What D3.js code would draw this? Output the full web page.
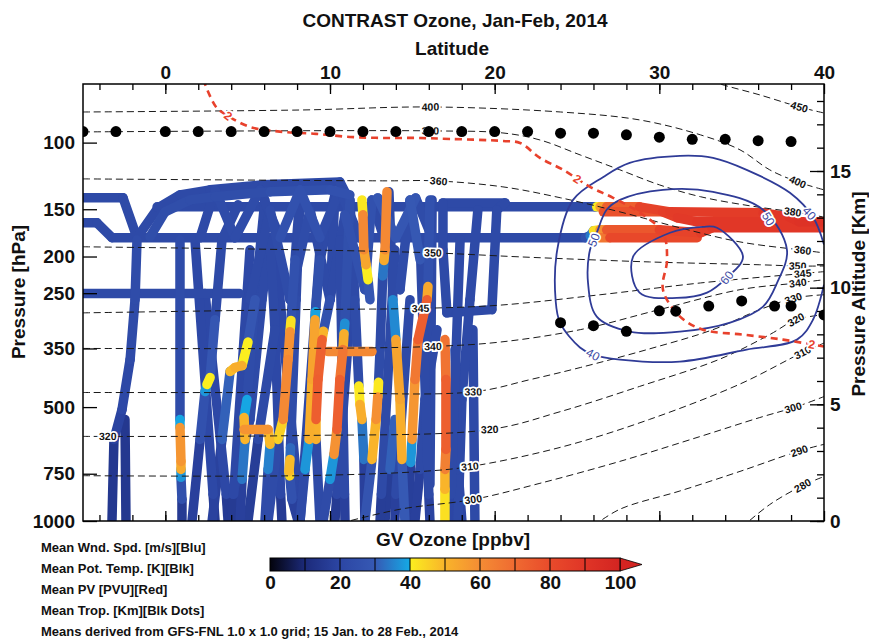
<!DOCTYPE html>
<html>
<head>
<meta charset="utf-8">
<script src="https://cdn.jsdelivr.net/npm/d3@7"></script>
<style>
  body { margin: 0; background: #fff; }
  svg text { font-family: "Liberation Sans", Arial, Helvetica, sans-serif; }
</style>
</head>
<body>
<div id="chart"></div>
<script>
// axis ticks
const latTicks = [0, 10, 20, 30, 40]
const pressureTicks = [100, 150, 200, 250, 350, 500, 750, 1000]
const altitudeTicks = [0, 5, 10, 15]
const ozoneTicks = [0, 20, 40, 60, 80, 100]

// ozone colour table (ppbv)
const ozoneStops = [0, 10, 20, 30, 39.9, 40, 50, 60, 70, 80, 90, 100]
const ozoneColors = ['#03030c', '#1c2a7a', '#2c46a4', '#3659b4', '#15a9e5', '#fbee1f',
                     '#f9b42a', '#f48c34', '#ef6a31', '#e94b2b', '#e03527', '#d32421']

// mean potential temperature contours [lat, hPa]
const thetaContours = [
  [450, [[32.5,67],[33.7,70],[36.1,74.8],[38.5,80.5],[40,83.5]]],
  [400, [[-5,83],[8.2,82],[16.1,80.5],[24,83],[28.8,87.1],[32.5,95.4],[34.9,104.5],[36.7,118],[38.4,127],[40,133.3]]],
  [380, [[-5,93.7],[16.1,93.1],[20.5,94.3],[22.75,98.4],[25.2,107.8],[27.6,118],[30,129.3],[32.5,139],[35.5,146.9],[38.1,152.4],[40,157.3]]],
  [360, [[-5,124.7],[13.2,126.2],[16.4,126.2],[20.5,130.9],[24,139.9],[27.6,152.4],[31.25,167.9],[34.9,183],[38.5,192],[40,195.6]]],
  [350, [[-5,188.5],[8.2,192],[16.25,195.6],[21.5,200.4],[29.4,206.7],[36.1,210.3],[38.4,211.9],[40,211.9]]],
  [345, [[-5,281.8],[8.2,276.3],[15.5,274.2],[20.3,268.9],[26.4,252.4],[32.5,234.9],[38.5,222.2],[40,219.3]]],
  [340, [[-5,349.9],[8.2,349.9],[16.25,345.7],[20.3,336.7],[25.2,312.1],[30,276.3],[34.9,244.7],[38.4,234.9],[40,230.3]]],
  [330, [[-5,457.5],[8.2,457.5],[18.7,455.6],[22.15,423],[25.2,393],[29.25,352.4],[33.26,312.1],[36.1,276.3],[38.24,257.3],[40,252.4]]],
  [320, [[-5,597.6],[8.2,594.5],[19.7,573],[24,513.8],[28.8,440.9],[33.7,373],[36.7,321.7],[38.3,293.8],[40,284.9]]],
  [310, [[-5,759],[8.2,759],[15.5,740],[18.5,718],[24,638.6],[29.4,539],[34.9,434.5],[38.7,358.5],[40,338.7]]],
  [300, [[10,1030],[14.25,931],[18.7,877],[22.75,795],[27.6,695.8],[32.5,597.6],[36.1,532.8],[38.4,497.7],[40,469]]],
  [290, [[26,1030],[27.6,931],[31.25,833],[34.9,739.4],[38.5,652.8],[40,627.2]]],
  [280, [[35,1040],[36.7,905],[38.7,806],[40,763]]]
]
const thetaLabels = [
  [450,38.5,80.5],[400,16.1,80.5],[400,38.4,127],[380,16.1,93.1],[380,38.1,152.4],
  [360,16.6,126.2],[360,38.7,192],[350,16.25,195.6],[350,38.4,210.3],[345,15.5,274.2],
  [345,38.7,220.7],[340,16.25,345.7],[340,38.4,232.7],[330,18.7,455.6],[330,38.1,255.7],
  [320,-3.5,594.5],[320,19.7,573],[320,38.3,293.8],[310,18.5,718],[310,38.7,358.5],
  [300,18.7,877],[300,38.1,497.7],[290,38.5,652.8],[280,38.7,806]
]

// mean wind speed contours [lat, hPa]
const wind40 = [[40,186],[39.33,157.3],[37.93,135.7],[35.3,118],[33.26,109.7],[31.25,108.4],[28.2,113.1],
  [26.6,123.2],[24.76,141.7],[23.8,192],[23.7,260.1],[23.97,299.1],[25.18,347.8],[25.97,363.3],
  [27.61,374.5],[31.25,379],[35.3,352.4],[38.36,331.6],[39.33,293.8],[40,237.4]]
const wind50 = [[27.61,141.7],[30.22,133.3],[33.26,134.9],[36.3,150.5],[37.75,192],[37.15,234.9],
  [36.3,271.3],[34.3,299.1],[31.25,315.9],[28.2,315.9],[26.2,288.4],[25.67,234.9],[25.79,192],
  [26.2,173.1],[26.8,150.5]]
const wind60 = [[28.4,200.4],[30.65,173.1],[32.65,166.9],[33.5,167.9],[35.08,200.4],[34.1,227.5],
  [32.9,249.2],[31.07,257.3],[28.8,249.2]]
const windLabels = [[40,25.97,363.3],[40,39.2,152.4],[50,36.72,158],[50,26.0,180.6],[60,34.1,227.5]]

// mean PV = 2 PVU contour [lat, hPa]
const pv2 = [[2.3,68],[3.08,80.5],[3.81,85],[5.14,90.9],[7.15,93.7],[9.15,94.8],[11.21,96.6],[13.22,97.2],
  [15.22,97.2],[17.29,97.8],[20.51,99],[21.54,100.2],[22.75,109.7],[24.15,118],[25.79,130.9],
  [27.19,139.9],[28.83,153.3],[30.22,173.1],[30.47,203.9],[30.22,244.7],[31.26,288.4],[32.65,312.1],
  [35.08,321.7],[37.51,331.6],[39.33,342],[40,346]]
const pvLabels = [[2,3.81,85],[2,25.06,123.9],[2,39.27,338.7]]

// mean tropopause height [km]
const tropHighLat = [-5,-3,0,2,4,6,8,10,12,14,16,18,20,22,24,26,28,30,32,34,36,38]
const tropHighKm = [16.69,16.69,16.69,16.69,16.69,16.69,16.69,16.69,16.69,16.69,16.69,16.69,16.69,16.69,
  16.62,16.62,16.55,16.45,16.36,16.36,16.3,16.26]
const tropLowLat = [24,26,28,30,31,33,35,37,38,40]
const tropLowKm = [8.5,8.37,8.13,9.01,8.99,9.21,9.43,9.21,9.21,8.83]

// GV flight tracks, vertices [lat, hPa, ozone ppbv]
const flightTracks = [
  [[-5,139.9,22],[-2.57,139.9,22],[-1.72,178.4,22],[-0.44,148.7,22],[0.89,137.4,22],[2.72,133.3,22],[5.93,129.3,22],[10.6,127,22],[10.91,134.9,24]],
  [[-0.93,177.4,24],[-0.02,152.4,24],[1.5,141.7,24],[3.02,139,24],[6.36,134.9,24],[10.0,133.3,26],[11.21,137.4,26]],
  [[-0.5,147.8,22],[26.1,147.8,22],[26.2,147.8,35],[26.4,147.8,45],[26.8,147.8,65],[28.8,147.8,82],[30.65,152.4,86],[36.3,153.3,88],[37.9,157.3,90],[38.5,161.9,92],[40,161.9,92]],
  [[26.6,152.4,72],[30.2,152.4,84],[31.1,158,88],[32.3,161.9,88],[38.5,161.9,90]],
  [[-5,162.9,22],[-4.15,162.9,22],[-3.24,178.4,22],[25.5,178.4,22],[25.8,176.3,30],[26.0,171,38],[26.4,170,48],[26.8,170,70],[30.0,170,82],[32.5,173.1,85],[33.2,167.9,88],[40,167.9,90]],
  [[26.2,178.4,55],[27.0,178.4,78],[32.3,178.4,85]],
  [[-1.72,180.6,23],[-1.84,260.1,23],[-2.14,374.5,22],[-2.63,507.4,20],[-3.12,608.7,18],[-3.24,1000,12]],
  [[-2.45,539.2,20],[-2.39,1000,10]],
  [[-5,250.6,22],[4.5,250.6,22]],
  [[0.89,180.6,22],[0.89,539.2,24],[0.89,566,55],[0.95,695.8,60],[0.95,730.5,45],[0.95,766.7,30],[1.01,876.4,20],[1.01,1000,12]],
  [[1.62,1000,14],[2.11,608.7,22],[2.41,454.8,30],[2.53,435.8,45],[2.72,417.7,35],[3.02,293.8,22],[3.44,180.6,22],[4.42,146,22]],
  [[2.84,1000,15],[3.44,608.7,22],[3.93,402.7,40],[4.23,393,58],[4.66,388.3,45],[5.02,336.7,35],[5.45,260.1,22],[6.05,180.6,22]],
  [[6.05,141.7,22],[5.45,260.1,22],[4.96,477.5,24],[4.78,532.6,55],[4.84,608.7,45],[4.66,776.2,22],[4.54,1000,14]],
  [[4.78,573,58],[6.24,573,58],[6.36,627.2,40],[6.24,730.5,30],[6.05,1000,15]],
  [[6.24,1000,15],[6.84,608.7,30],[7.15,539.2,60],[7.45,374.5,62],[7.57,315.9,55],[7.63,295,30],[7.88,203.9,22],[8.18,137.4,22]],
  [[8.18,137.4,22],[7.94,260.1,22],[7.6,640,24],[7.57,687.5,40],[7.51,739.4,58],[7.55,760,30],[7.69,876.4,22],[8.06,1000,14]],
  [[8.18,1000,14],[8.48,730.5,30],[8.73,608.7,45],[8.91,422.8,58],[9.09,293.8,50],[9.12,280,28],[9.39,203.9,22],[10.3,137.4,22]],
  [[10.3,137.4,22],[10.0,260.1,22],[9.6,315,30],[9.52,331.6,70],[9.27,422.8,76],[9.15,539.2,72],[9.15,608.7,30],[9.39,1000,14]],
  [[9.58,1000,15],[10.0,776.2,30],[10.24,666.8,45],[10.42,573,72],[10.6,422.8,75],[10.79,352.4,58],[10.85,320,45],[10.9,300,28],[11.21,141.7,22]],
  [[11.21,141.7,22],[11.51,260.1,22],[11.75,440,24],[11.82,492.1,58],[11.94,539.2,45],[12.06,687.5,22],[12.12,1000,14]],
  [[9.88,356.7,60],[12.55,356.7,62]],
  [[12.12,1000,15],[12.55,687.5,40],[12.8,539.2,60],[12.9,470,58],[12.95,430,24],[13.04,352.4,22],[13.2,225,22],[13.28,205,45],[13.34,192,60],[13.46,134.9,62]],
  [[13.58,134.9,22],[13.82,260.1,22],[14.0,331.6,50],[14.25,477.5,58],[14.37,687.5,45],[14.55,1000,15]],
  [[14.74,1000,15],[14.9,700,20],[14.98,608.7,55],[15.16,422.8,60],[15.35,331.6,72],[15.89,260.1,76],[15.95,240,30],[16.07,141.7,22]],
  [[16.2,141.7,22],[16.07,800.2,22]],
  [[16.86,144.3,22],[20.63,144.3,22],[20.13,150.5,22],[19.83,276.3,22],[17.1,281.8,22],[16.86,192,22],[16.86,144.3,22]],
  [[16.98,331.6,60],[17.04,422.8,75],[17.04,646.9,72],[16.98,730.5,55],[16.98,824.8,45],[16.98,1000,40]],
  [[18.68,312.1,22],[18.8,1000,22]],
  [[17.77,1000,22],[18.01,477.5,22],[18.5,260.1,22],[18.98,150.5,22]],
  [[2.41,250.6,22],[3.7,850,20],[3.81,1000,12]],
  [[3.93,1000,12],[4.1,850,20],[5.14,539.2,22],[5.87,260.1,22],[6.36,180.6,22]],
  [[6.36,180.6,22],[6.66,312.1,22],[7.0,850,20],[7.08,1000,12]],
  [[5.14,260.1,22],[6.36,150.5,22],[7.57,260.1,24],[8.79,150.5,22],[10.0,260.1,22],[10.91,155.1,22],[12.12,244.7,30],[12.55,141.7,22],[14.25,244.7,22],[14.86,141.7,24],[15.47,203.9,35]],
  [[5.02,1000,12],[5.63,608.7,22],[6.66,312.1,22]],
  [[13.34,1000,12],[13.64,730.5,22],[13.94,539.2,40]],
  [[15.16,1000,14],[15.47,730.5,22],[15.77,477.5,22],[16.5,312.1,22]],
  [[17.59,352.4,22],[17.77,730.5,22],[18.01,1000,18]],
  [[11.94,141.7,22],[12.0,155.1,60],[12.06,192,62],[12.19,210.3,45],[12.31,230.3,35],[12.43,260.1,22]],
  [[1.8,180.6,22],[2.9,850,20],[3.02,1000,12]],
  [[5.14,192,22],[4.15,850,20],[4.05,1000,12]],
  [[6.66,186,22],[8.05,850,20],[8.18,1000,12]],
  [[9.39,192,22],[8.3,850,20],[8.18,1000,12]],
  [[10.6,180.6,22],[10.88,850,22],[10.91,1000,14]],
  [[11.51,192,22],[10.42,850,20],[10.3,1000,12]],
  [[13.94,192,22],[13.12,850,22],[13.04,1000,12]],
  [[15.47,180.6,22],[16.0,850,22],[16.07,1000,16]],
  [[14.86,260.1,22],[14.0,850,22],[13.94,1000,14]],
  [[17.9,180.6,22],[17.35,850,22],[17.29,1000,18]],
  [[2.11,178.4,22],[3.02,133.3,22],[4.23,178.4,24],[5.75,133.3,22],[6.97,178.4,22],[8.18,133.3,30],[9.39,178.4,22],[10.6,133.3,24],[11.8,178.4,22],[12.9,140,22],[14.0,178.4,35],[15.2,140,22],[16.2,178.4,24]]
]

const W = 869, H = 639
const svg = d3.select('#chart').append('svg').attr('width', W).attr('height', H)
svg.append('rect').attr('width', W).attr('height', H).attr('fill', '#fff')

const x = d3.scaleLinear().domain([-5, 40]).range([83, 824])
const y = d3.scaleLog().domain([70, 1000]).range([84, 521])
const yKm = d3.scaleLinear().domain([0, 15]).range([521, 171])
const o3Color = d3.scaleLinear().domain(ozoneStops).range(ozoneColors).clamp(true)

const defs = svg.append('defs')
defs.append('clipPath').attr('id', 'plotClip')
  .append('rect').attr('x', 83).attr('y', 84).attr('width', 741).attr('height', 437)

const plot = svg.append('g').attr('clip-path', 'url(#plotClip)')

// flight track segments, coloured by ozone, high values drawn last
const segments = []
flightTracks.forEach(t => {
  for (let i = 1; i < t.length; i++) segments.push([t[i - 1], t[i]])
})
segments.sort((a, b) => (a[0][2] + a[1][2]) - (b[0][2] + b[1][2]))
plot.append('g').selectAll('line').data(segments).join('line')
  .attr('x1', d => x(d[0][0])).attr('y1', d => y(d[0][1]))
  .attr('x2', d => x(d[1][0])).attr('y2', d => y(d[1][1]))
  .attr('stroke', d => o3Color((d[0][2] + d[1][2]) / 2))
  .attr('stroke-width', 9.5)
  .attr('stroke-linecap', 'round')

const line = d3.line().x(d => x(d[0])).y(d => y(d[1])).curve(d3.curveCatmullRom.alpha(0.5))
const closedLine = d3.line().x(d => x(d[0])).y(d => y(d[1])).curve(d3.curveCatmullRomClosed.alpha(0.5))

// snap a label to the nearest segment of a contour and follow its slope
function snap(pts, lat, p) {
  const px = pts.map(d => [x(d[0]), y(d[1])])
  const lx = x(lat), ly = y(p)
  let best = null
  for (let i = 1; i < px.length; i++) {
    const [x1, y1] = px[i - 1], [x2, y2] = px[i]
    const dx = x2 - x1, dy = y2 - y1
    let t = ((lx - x1) * dx + (ly - y1) * dy) / (dx * dx + dy * dy)
    t = Math.max(0, Math.min(1, t))
    const qx = x1 + t * dx, qy = y1 + t * dy
    const dd = (qx - lx) ** 2 + (qy - ly) ** 2
    if (!best || dd < best.dd) best = { dd, qx, qy, ang: Math.atan2(dy, dx) * 180 / Math.PI }
  }
  let a = best.ang
  if (a > 90) a -= 180
  if (a < -90) a += 180
  return { x: best.qx, y: best.qy, a }
}

function addLabels(g, labels, lookup, color, size, weight) {
  g.selectAll('text').data(labels).join('text')
    .each(function (d) {
      const s = snap(lookup(d[0]), d[1], d[2])
      d3.select(this).attr('transform', `translate(${s.x},${s.y}) rotate(${s.a})`)
    })
    .attr('text-anchor', 'middle').attr('dy', '0.35em')
    .attr('font-size', size).attr('font-weight', weight)
    .attr('fill', color)
    .attr('stroke', '#fff').attr('stroke-width', 3.5).attr('paint-order', 'stroke')
    .text(d => d[0])
}

// potential temperature (black dashed)
plot.append('g').selectAll('path').data(thetaContours).join('path')
  .attr('d', d => line(d[1]))
  .attr('fill', 'none').attr('stroke', '#1a1a1a').attr('stroke-width', 1)
  .attr('stroke-dasharray', '7,4')

// wind speed (blue)
const windG = plot.append('g')
windG.append('path').attr('d', line(wind40))
windG.append('path').attr('d', closedLine(wind50))
windG.append('path').attr('d', closedLine(wind60))
windG.selectAll('path').attr('fill', 'none').attr('stroke', '#2f3b97').attr('stroke-width', 1.8)

// PV (red dashed)
plot.append('path').attr('d', line(pv2))
  .attr('fill', 'none').attr('stroke', '#e8412c').attr('stroke-width', 2.6)
  .attr('stroke-dasharray', '7,5')

addLabels(plot.append('g'), thetaLabels, k => thetaContours.find(c => c[0] === k)[1], '#111', 10.5, 'bold')
addLabels(plot.append('g'), windLabels, k => ({40: wind40, 50: wind50.concat([wind50[0]]), 60: wind60.concat([wind60[0]])})[k], '#3b48a3', 12, 'normal')
addLabels(plot.append('g'), pvLabels, () => pv2, '#e8412c', 12, 'bold')

// tropopause dots
const dotG = plot.append('g')
dotG.selectAll('circle.hi').data(tropHighLat).join('circle').attr('class', 'hi')
  .attr('cx', d => x(d)).attr('cy', (d, i) => yKm(tropHighKm[i])).attr('r', 5.5).attr('fill', '#000')
dotG.selectAll('circle.lo').data(tropLowLat).join('circle').attr('class', 'lo')
  .attr('cx', d => x(d)).attr('cy', (d, i) => yKm(tropLowKm[i])).attr('r', 5.5).attr('fill', '#000')

// frame
svg.append('rect').attr('x', 83).attr('y', 84).attr('width', 741).attr('height', 437)
  .attr('fill', 'none').attr('stroke', '#000').attr('stroke-width', 1.5)

function styleAxis(g, size) {
  g.select('.domain').remove()
  g.selectAll('line').attr('stroke', '#000').attr('stroke-width', 1.3)
  g.selectAll('text').attr('font-size', size).attr('font-weight', 'bold').attr('fill', '#111')
    .style('font-family', '"Liberation Sans", Arial, sans-serif')
}
const latMinor = d3.range(-4, 40, 2)
const kmMinor = d3.range(0, 19, 1)

svg.append('g').attr('transform', 'translate(0,84)')
  .call(d3.axisTop(x).tickValues(latTicks).tickSize(-10).tickPadding(5).tickFormat(d3.format('d')))
  .call(g => styleAxis(g, 19))
svg.append('g').attr('transform', 'translate(0,84)')
  .call(d3.axisTop(x).tickValues(latMinor).tickSize(-6).tickFormat(''))
  .call(g => styleAxis(g, 19))
svg.append('g').attr('transform', 'translate(0,521)')
  .call(d3.axisBottom(x).tickValues(latTicks).tickSize(-10).tickFormat(''))
  .call(g => styleAxis(g, 19))
svg.append('g').attr('transform', 'translate(0,521)')
  .call(d3.axisBottom(x).tickValues(latMinor).tickSize(-6).tickFormat(''))
  .call(g => styleAxis(g, 19))
svg.append('g').attr('transform', 'translate(83,0)')
  .call(d3.axisLeft(y).tickValues(pressureTicks).tickSize(-14).tickPadding(8).tickFormat(d3.format('d')))
  .call(g => styleAxis(g, 19))
svg.append('g').attr('transform', 'translate(824,0)')
  .call(d3.axisRight(yKm).tickValues(altitudeTicks).tickSize(-14).tickPadding(6).tickFormat(d3.format('d')))
  .call(g => styleAxis(g, 19))
svg.append('g').attr('transform', 'translate(824,0)')
  .call(d3.axisRight(yKm).tickValues(kmMinor).tickSize(-7).tickFormat(''))
  .call(g => styleAxis(g, 19))

// titles
const title = (t, tx, ty, size, rot) => svg.append('text')
  .attr('transform', `translate(${tx},${ty}) rotate(${rot || 0})`)
  .attr('text-anchor', 'middle').attr('font-size', size).attr('font-weight', 'bold')
  .attr('fill', '#111').text(t)
title('CONTRAST Ozone, Jan-Feb, 2014', 455, 27, 19)
title('Latitude', 452, 55, 19)
title('Pressure [hPa]', 25, 292, 19, -90)
title('Pressure Altitude [Km]', 865, 294, 19, -90)
title('GV Ozone [ppbv]', 453, 546, 19)

// colour bar
const cb = d3.scaleLinear().domain([0, 100]).range([270, 620])
const grad = defs.append('linearGradient').attr('id', 'o3grad')
grad.selectAll('stop').data(ozoneStops).join('stop')
  .attr('offset', d => d / 100).attr('stop-color', (d, i) => ozoneColors[i])
const cbTop = 558, cbH = 13
svg.append('path')
  .attr('d', `M${cb(100)},${cbTop}L${cb(100) + 22},${cbTop + cbH / 2}L${cb(100)},${cbTop + cbH}Z`)
  .attr('fill', ozoneColors[ozoneColors.length - 1]).attr('stroke', '#000').attr('stroke-width', 0.8)
svg.append('rect').attr('x', cb(0)).attr('y', cbTop).attr('width', cb(100) - cb(0)).attr('height', cbH)
  .attr('fill', 'url(#o3grad)').attr('stroke', '#000').attr('stroke-width', 1)
svg.append('g').selectAll('line').data(d3.range(10, 100, 10)).join('line')
  .attr('x1', d => cb(d)).attr('x2', d => cb(d)).attr('y1', cbTop).attr('y2', cbTop + cbH)
  .attr('stroke', '#000').attr('stroke-width', 1)
svg.append('g').attr('transform', `translate(0,${cbTop + cbH})`)
  .call(d3.axisBottom(cb).tickValues(ozoneTicks).tickSize(0).tickPadding(5).tickFormat(d3.format('d')))
  .call(g => styleAxis(g, 19))

// legend notes
const notes = ['Mean Wnd. Spd. [m/s][Blu]', 'Mean Pot. Temp. [K][Blk]', 'Mean PV [PVU][Red]',
  'Mean Trop. [Km][Blk Dots]', 'Means derived from GFS-FNL 1.0 x 1.0 grid; 15 Jan. to 28 Feb., 2014']
svg.append('g').selectAll('text').data(notes).join('text')
  .attr('x', 41).attr('y', (d, i) => 552 + i * 21)
  .attr('font-size', 13).attr('font-weight', 'bold').attr('fill', '#111')
  .text(d => d)
</script>
</body>
</html>
